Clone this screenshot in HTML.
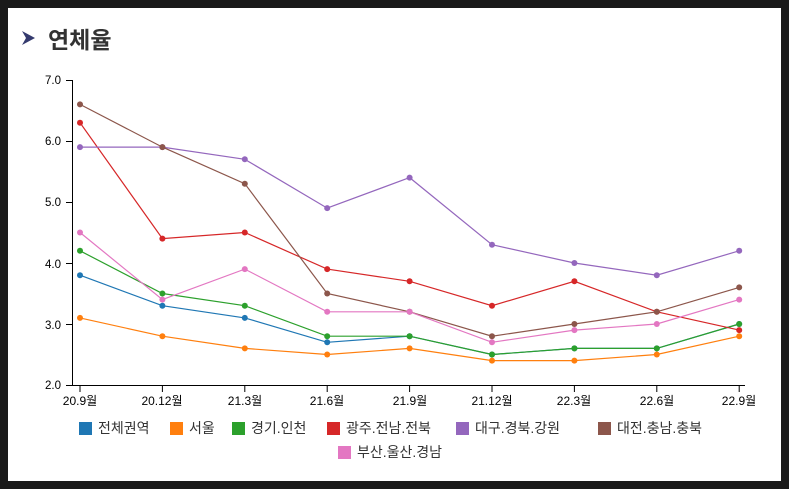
<!DOCTYPE html>
<html><head><meta charset="utf-8"><style>
body{margin:0;background:#1a1a1a;}
#w{position:absolute;left:8px;top:8px;width:773px;height:473px;background:#fff;}
svg text{font-family:"Liberation Sans","Noto Sans CJK KR",sans-serif;}
</style></head><body>
<div id="w"></div>
<svg width="789" height="489" style="position:absolute;left:0;top:0">
<polygon points="22,31 35,38 22,45 26,38" fill="#343a6e"/>
<text x="48" y="48" font-size="23" font-weight="bold" fill="#333">연체율</text>
<g font-size="11.5" fill="#000">
<text x="61" y="84" text-anchor="end">7.0</text>
<text x="61" y="145" text-anchor="end">6.0</text>
<text x="61" y="206" text-anchor="end">5.0</text>
<text x="61" y="268" text-anchor="end">4.0</text>
<text x="61" y="329" text-anchor="end">3.0</text>
<text x="61" y="389" text-anchor="end">2.0</text>
</g>
<g stroke="#000" stroke-width="1" fill="none">
<path d="M66,80.5H72.5V385.5H745"/>
<path d="M66,141.5H72M66,202.5H72M66,263.5H72M66,324.5H72M66,385.5H72"/>
<path d="M80,385V392M162.4,385V392M244.8,385V392M327.2,385V392M409.6,385V392M492,385V392M574.4,385V392M656.8,385V392M739.2,385V392"/>
</g>
<g font-size="12" fill="#000" text-anchor="middle">
<text x="80" y="405">20.9월</text><text x="162" y="405">20.12월</text><text x="245" y="405">21.3월</text><text x="327" y="405">21.6월</text><text x="410" y="405">21.9월</text><text x="492" y="405">21.12월</text><text x="574" y="405">22.3월</text><text x="657" y="405">22.6월</text><text x="739" y="405">22.9월</text>
</g>
<g id="s"></g>
<g font-size="14" fill="#333">
<rect x="79" y="422" width="13" height="13" fill="#1f77b4"/><text x="98" y="433">전체권역</text>
<rect x="170" y="422" width="13" height="13" fill="#ff7f0e"/><text x="189" y="433">서울</text>
<rect x="232" y="422" width="13" height="13" fill="#2ca02c"/><text x="251" y="433">경기.인천</text>
<rect x="327" y="422" width="13" height="13" fill="#d62728"/><text x="346" y="433">광주.전남.전북</text>
<rect x="456" y="422" width="13" height="13" fill="#9467bd"/><text x="475" y="433">대구.경북.강원</text>
<rect x="598" y="422" width="13" height="13" fill="#8c564b"/><text x="617" y="433">대전.충남.충북</text>
<rect x="338" y="446" width="13" height="13" fill="#e377c2"/><text x="357" y="457">부산.울산.경남</text>
</g>
</svg>
<script>
var D=[["#1f77b4",[3.8,3.3,3.1,2.7,2.8,2.5,2.6,2.6,3.0]],["#ff7f0e",[3.1,2.8,2.6,2.5,2.6,2.4,2.4,2.5,2.8]],["#2ca02c",[4.2,3.5,3.3,2.8,2.8,2.5,2.6,2.6,3.0]],["#d62728",[6.3,4.4,4.5,3.9,3.7,3.3,3.7,3.2,2.9]],["#9467bd",[5.9,5.9,5.7,4.9,5.4,4.3,4.0,3.8,4.2]],["#8c564b",[6.6,5.9,5.3,3.5,3.2,2.8,3.0,3.2,3.6]],["#e377c2",[4.5,3.4,3.9,3.2,3.2,2.7,2.9,3.0,3.4]]];
var h="";D.forEach(function(d){var p=d[1].map(function(v,i){return (80+i*82.4).toFixed(1)+","+(385-(v-2)*61).toFixed(1)});h+='<polyline fill="none" stroke="'+d[0]+'" stroke-width="1.2" points="'+p.join(" ")+'"/>';p.forEach(function(q){var c=q.split(",");h+='<circle cx="'+c[0]+'" cy="'+c[1]+'" r="3" fill="'+d[0]+'"/>'});});
document.getElementById("s").innerHTML=h;
</script>
</body></html>
